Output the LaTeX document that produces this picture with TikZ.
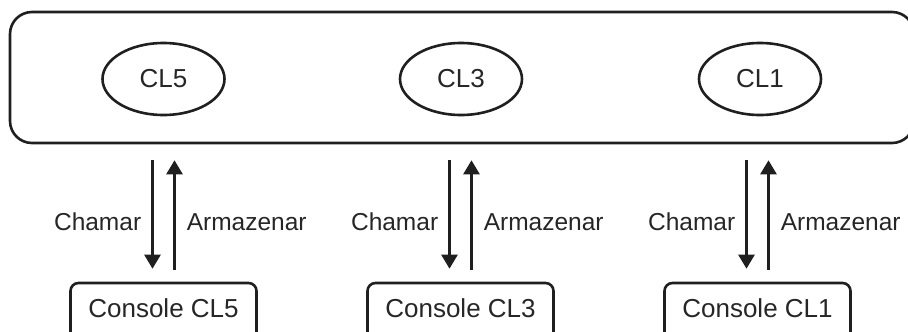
\documentclass[tikz,border=0pt]{standalone}
\usepackage{fontspec}
\setmainfont{Liberation Sans}
\usetikzlibrary{arrows.meta,calc,shapes.geometric}
\begin{document}
\begin{tikzpicture}[x=1pt,y=-1pt,
  line width=2.6pt, color=black!88,
  every node/.style={font=\fontsize{26}{30}\selectfont, text=black!85},
  mainbox/.style={draw, rounded corners=22pt, minimum width=904pt, minimum height=131pt, inner sep=0pt},
  clell/.style={draw, ellipse, minimum width=122pt, minimum height=72pt, inner sep=0pt},
  consbox/.style={draw, rounded corners=8pt, minimum width=186pt, minimum height=62pt, text depth=11pt, inner sep=0pt},
  lbl/.style={inner sep=0pt, font=\fontsize{24.5}{28}\selectfont},
  arr/.style={-{Triangle[length=14pt,width=16pt]}, line width=2.6pt}]
\useasboundingbox (0,0) rectangle (908,332);
\clip (0,0) rectangle (908,332);
\node[mainbox] (main) at (462,77.5) {};
\node[clell] (e5) at (163.5,79) {CL5};
\node[clell] (e3) at (461,79) {CL3};
\node[clell] (e1) at (760,79) {CL1};
\node[consbox] (c5) at (163.5,314) {Console CL5};
\node[consbox] (c3) at (460.5,314) {Console CL3};
\node[consbox] (c1) at (757.5,314) {Console CL1};
\foreach \c in {c5,c3,c1}{
  \coordinate (\c dt) at ($(main.south -| \c.north)+(-11,16)$);
  \coordinate (\c db) at ($(\c.north)+(-11,-13)$);
  \coordinate (\c ut) at ($(main.south -| \c.north)+(11,16)$);
  \coordinate (\c ub) at ($(\c.north)+(11,-12)$);
  \draw[arr] (\c dt) -- (\c db);
  \draw[arr] (\c ub) -- (\c ut);
  \node[lbl, anchor=east] (\c ch) at ($(\c dt)!0.57!(\c db)+(-10,0)$) {Chamar};
  \node[lbl, anchor=west] (\c ar) at ($(\c ut)!0.57!(\c ub)+(11,0)$) {Armazenar};
}
\end{tikzpicture}
\end{document}
